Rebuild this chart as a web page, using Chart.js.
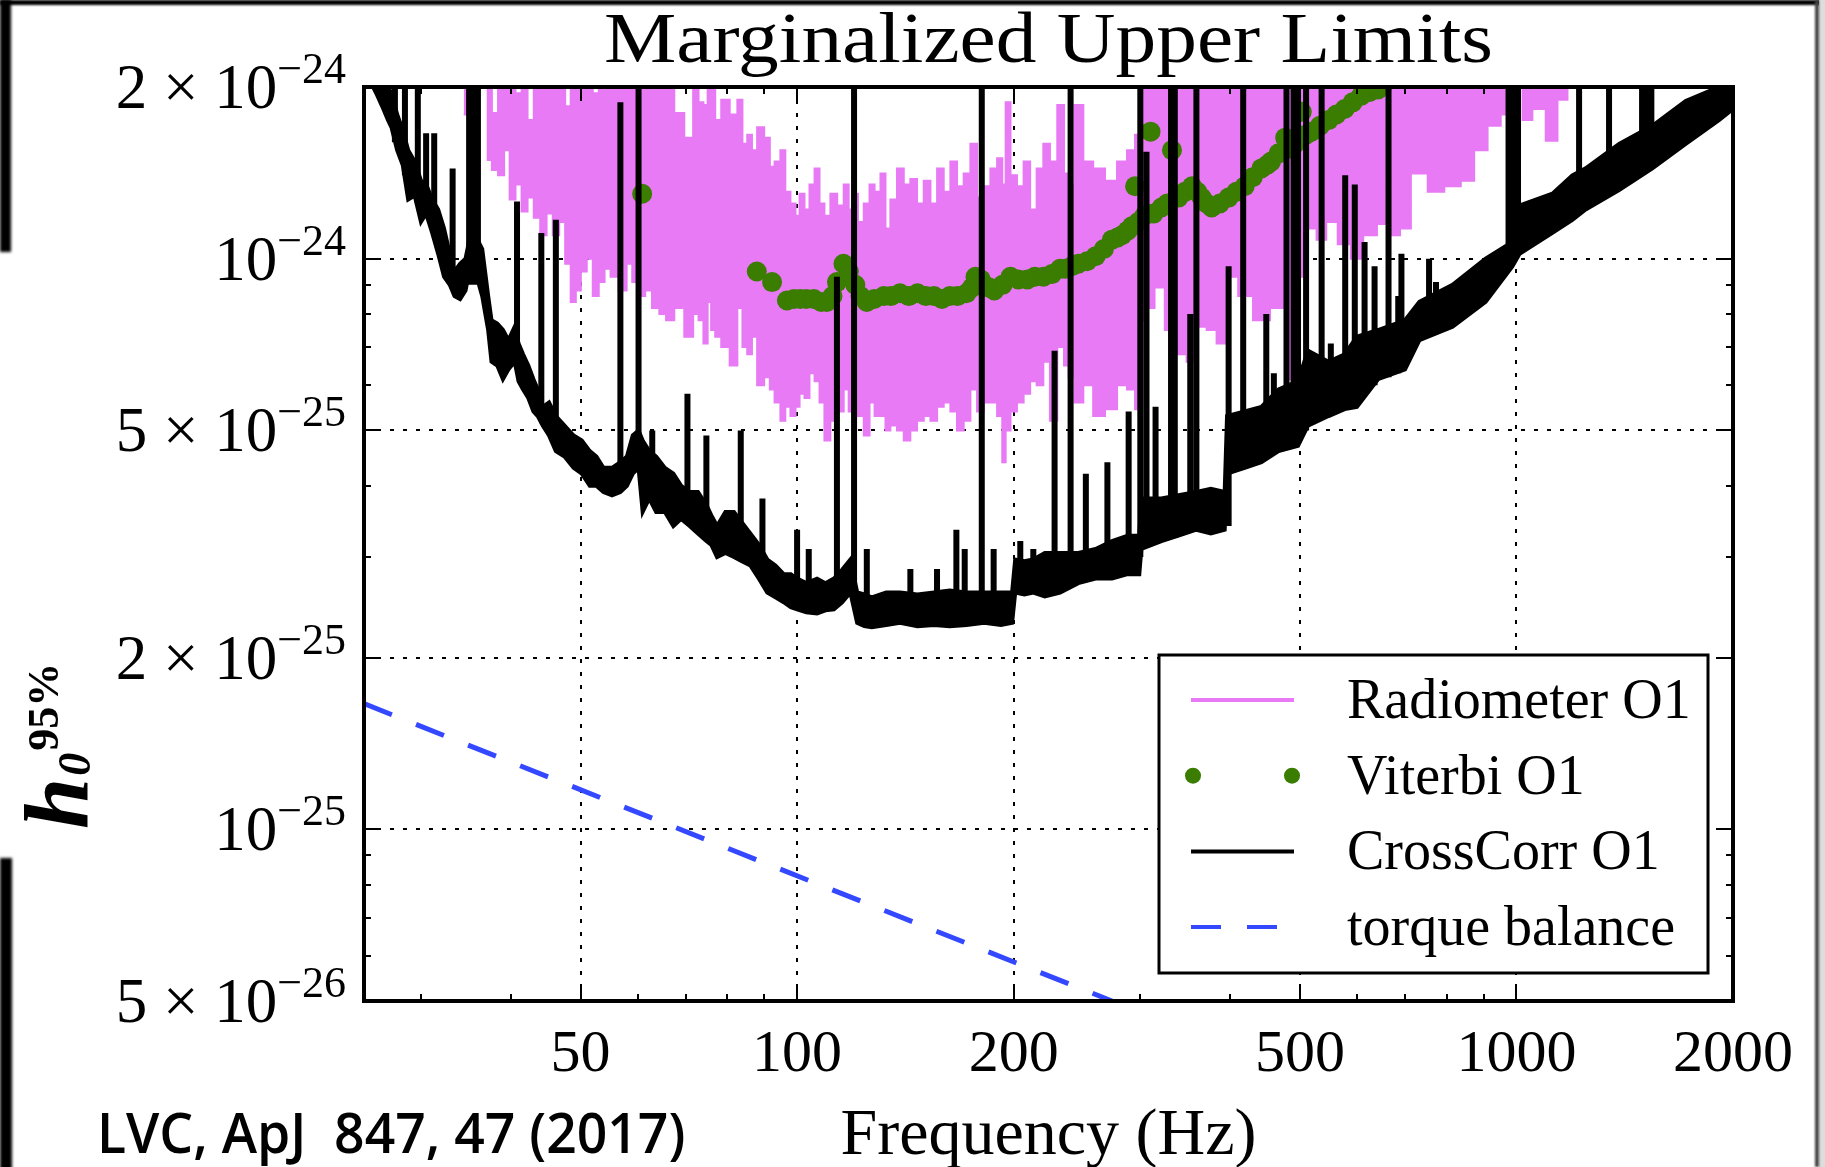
<!DOCTYPE html>
<html lang="en">
<head>
<meta charset="UTF-8">
<title>Marginalized Upper Limits</title>
<script src="https://cdn.jsdelivr.net/npm/chart.js@4"></script>
<style>
  html, body { margin: 0; padding: 0; background: #fff; }
  #page { position: relative; width: 1825px; height: 1167px; overflow: hidden; background: #fff; }
  #chart { position: absolute; left: 0; top: 0; }
  .edge { position: absolute; background: #000; }
  #edgeTop { left: 0; top: 0; width: 1825px; height: 5px; filter: blur(1px); }
  #edgeLeftA { left: 0; top: 0; width: 11px; height: 252px; filter: blur(1.5px); }
  #edgeLeftB { left: 0; top: 858px; width: 12px; height: 320px; filter: blur(1.5px); }
  #edgeRight { left: 1815px; top: 0; width: 4px; height: 1167px; background: #444; filter: blur(1px); }
  #edgeRightOut { left: 1819px; top: 0; width: 6px; height: 1167px; background: #ddd; }
  #citation {
    position: absolute; left: 97px; top: 1093px;
    font: 600 56px "Open Sans"; white-space: pre; color: #000;
    transform-origin: 0 0;
  }
</style>
</head>
<body>
<div id="page">
  <div class="edge" id="edgeTop"></div>
  <div class="edge" id="edgeLeftA"></div>
  <div class="edge" id="edgeLeftB"></div>
  <div class="edge" id="edgeRightOut"></div>
  <div class="edge" id="edgeRight"></div>
  <canvas id="chart" width="1825" height="1167"></canvas>
  <div id="citation">LVC, ApJ  847, 47 (2017)</div>
</div>
<script>
// strain values below are in units of 1e-25
const UNIT = 1e-25;

// Radiometer O1: upper and lower edge of the band
const radioFreq = [34.4, 35.3, 35.5, 37.0, 37.3, 38.0, 38.8, 39.5, 40.2, 41.0, 41.8, 42.6, 43.5, 44.4, 45.3, 46.2, 47.2, 48.0, 48.9, 49.6,
  50.5, 51.5, 52.5, 53.5, 54.5, 55.6, 57.4, 58.5, 59.5, 61.0, 62.0, 63.7, 65.0, 66.5, 68.5, 70.9, 72.5, 73.4, 74.8, 75.4,
  76.5, 77.4, 79.5, 81.7, 83.5, 84.4, 86.1, 87.0, 89.0, 91.0, 92.3, 93.8, 95.8, 96.8, 99.0, 100, 101.6, 103.2, 104.9, 106.6,
  108.3, 110, 112.5, 114.9, 117.3, 118.6, 120.5, 122.5, 125.1, 127.1, 129.2, 132, 133.4, 136.2, 139.2, 142.2, 145.2, 148.4, 151.6, 154.9,
  158.2, 161.6, 165.1, 168.6, 172.3, 176, 179.8, 183.7, 187.6, 191.8, 193.9, 196, 200, 204.3, 208.7, 213, 217.6, 222.3, 227, 233,
  237, 240, 246, 254, 262, 274, 283, 292, 298, 301, 310, 318, 331, 342, 354, 365, 377, 389, 402, 419,
  442, 467, 487, 497, 519, 536, 552, 577, 600, 625, 655, 684, 694, 733, 773, 815, 859, 888, 936, 966,
  987, 1010, 1030, 1075, 1122, 1159, 1196];
const radioHigh = [21, 21, 21, 21, 21, 18.0, 21, 21, 21, 19.5, 21, 17.5, 21, 21, 20.0, 21, 21, 18.5, 21, 21,
  21, 21, 19.5, 21, 21, 21, 21, 21, 21, 21, 21, 20.0, 21, 21, 18.0, 16.3, 21, 18.8, 18.6, 20.0,
  21, 17.5, 19.0, 17.9, 19.0, 15.9, 16.5, 15.5, 17.0, 16.3, 14.5, 14.8, 15.5, 13.1, 12.5, 11.9, 13.0, 12.2, 13.5, 14.4,
  12.5, 11.9, 13.0, 12.4, 13.5, 12.2, 13.0, 11.6, 12.5, 13.5, 13.1, 14.1, 11.3, 12.7, 14.4, 13.5, 13.8, 12.5, 13.7, 12.5,
  14.4, 13.1, 14.8, 13.4, 14.1, 15.9, 12.8, 13.4, 14.4, 15.0, 13.5, 18.8, 14.0, 13.4, 14.8, 12.2, 14.4, 15.9, 14.8, 18.6,
  14.1, 13.5, 18.6, 14.8, 14.4, 13.7, 14.8, 15.5, 16.5, 21, 21, 21, 21, 21, 21, 21, 21, 21, 21, 21,
  21, 21, 21, 21, 21, 21, 21, 21, 21, 21, 21, 21, 21, 21, 21, 21, 21, 21, 21, 21,
  21, 21, 21, 21, 21, 21, 21];
const radioLow = [17.9, 17.9, 21, 21, 14.9, 14.3, 14.0, 15.5, 12.7, 13.5, 12.1, 12.8, 11.8, 11.0, 12.0, 11.0, 11.6, 9.8, 8.4, 8.8,
  9.5, 10.0, 8.6, 9.1, 9.6, 9.3, 8.8, 9.8, 9.1, 8.6, 8.8, 8.2, 8.0, 7.8, 8.2, 7.3, 8.0, 7.8, 7.1, 8.4,
  7.5, 7.3, 7.0, 6.5, 8.2, 7.0, 6.8, 7.3, 6.0, 6.2, 5.9, 5.6, 5.2, 5.5, 5.3, 5.5, 5.8, 5.7, 6.3, 6.1,
  5.6, 4.8, 5.2, 5.4, 5.9, 5.4, 5.9, 5.3, 4.9, 5.6, 5.3, 5.3, 5.0, 5.1, 5.0, 4.8, 5.0, 5.2, 5.3, 5.2,
  5.5, 5.6, 5.4, 5.0, 5.2, 5.9, 5.4, 5.6, 5.6, 5.3, 4.4, 5.0, 5.4, 5.6, 5.8, 6.1, 6.0, 6.6, 5.2, 7.0,
  6.5, 6.2, 5.6, 6.0, 5.3, 5.45, 6.0, 5.9, 5.45, 7.8, 8.2, 8.9, 7.5, 6.8, 6.6, 7.6, 7.5, 7.1, 9.3, 8.6,
  7.8, 8.2, 6.15, 9.3, 11.3, 10.8, 11.6, 10.6, 10.0, 11.0, 11.5, 11.0, 11.3, 14.1, 13.1, 13.4, 13.7, 15.5, 17.1, 17.9,
  21, 21, 17.5, 18.3, 16.1, 19.0, 21];

// Viterbi O1 upper limits
const viterbiFreq = [60.9, 87.9, 92.3, 96.8, 99, 101, 103, 105.5, 108, 110, 112, 113.6, 116, 118, 120.5, 122.5, 125, 128, 132, 135,
  139, 143, 147, 151, 155, 159, 163, 167, 172, 175, 177, 180, 182, 185, 188, 193, 198, 203, 209, 214,
  220, 226, 232, 236, 241, 246, 253, 260, 267, 274, 279, 283, 288, 292, 295, 298, 304, 310, 313, 321,
  327, 332, 339, 346, 354, 360, 365, 371, 377, 387, 398, 408, 419, 430, 442, 450, 456, 467, 477, 485,
  492, 503, 510, 519, 533, 548, 562, 577, 592, 608, 625, 642, 660];
const viterbiH = [13.0, 9.5, 9.1, 8.45, 8.5, 8.5, 8.5, 8.5, 8.4, 8.4, 8.6, 9.1, 9.8, 9.5, 9.0, 8.6, 8.4, 8.5, 8.6, 8.6,
  8.7, 8.6, 8.7, 8.6, 8.6, 8.5, 8.6, 8.6, 8.7, 8.9, 9.3, 9.2, 9.0, 8.9, 8.8, 9.0, 9.3, 9.2, 9.2, 9.3,
  9.3, 9.4, 9.6, 9.6, 9.7, 9.8, 9.9, 10.1, 10.4, 10.8, 10.9, 11.0, 11.2, 11.4, 13.4, 11.6, 11.9, 16.7, 12.0, 12.3,
  12.5, 15.5, 12.8, 13.1, 13.4, 13.1, 12.8, 12.5, 12.3, 12.5, 12.8, 13.1, 13.4, 13.9, 14.4, 14.6, 14.8, 15.3, 16.3, 15.6,
  15.9, 18.1, 16.5, 16.7, 17.1, 17.5, 17.9, 18.3, 18.8, 19.3, 19.6, 19.8, 20.5];

// CrossCorr O1: broadband floor (upper / lower edge) ...
const crossFreq = [25.0, 25.5, 26.0, 26.5, 27.0, 27.3, 27.8, 28.3, 28.8, 29.4, 30.0, 30.5, 31.1, 31.7, 32.3, 32.9, 33.4, 34.0, 34.6, 35.3,
  36.5, 37.2, 37.6, 38.3, 39.0, 39.7, 40.5, 41.0, 41.6, 42.3, 43.0, 43.6, 44.3, 45.2, 46.2, 47.5, 48.9, 50.2, 51.5, 52.6,
  53.8, 55.3, 56.8, 58.0, 59.1, 60.2, 61.0, 62.3, 63.7, 65.5, 67.3, 69.0, 70.9, 72.8, 74.8, 76.0, 77.4, 79.5, 81.7, 83.8,
  86.1, 88.5, 90.9, 93.3, 95.8, 98, 100, 103, 106.6, 109.5, 112.5, 115.5, 118.6, 121.2, 124, 127, 133, 139, 147, 155,
  163, 172, 182, 192, 199, 201, 207, 213, 221, 232, 246, 260, 274, 288, 299, 301, 321, 339, 359, 376,
  393, 396, 419, 442, 467, 497, 513, 548, 577, 600, 642, 700, 733, 815, 906, 987, 1010, 1122, 1196, 1248,
  1389, 1545, 1719, 1912, 2000];
const crossHigh = [27, 23, 21, 20.5, 20.0, 19.5, 17.9, 16.8, 15.5, 14.8, 13.7, 13.5, 12.7, 12.2, 11.3, 10.2, 9.5, 9.8, 10.0, 11.3,
  10.4, 8.6, 7.8, 7.7, 7.5, 7.2, 7.6, 7.1, 6.8, 6.5, 6.15, 5.9, 5.5, 5.6, 5.3, 5.1, 4.9, 4.8, 4.6, 4.5,
  4.3, 4.3, 4.4, 4.5, 4.9, 5.0, 4.8, 4.6, 4.5, 4.3, 4.2, 4.0, 3.9, 3.9, 3.7, 3.55, 3.4, 3.6, 3.6, 3.45,
  3.3, 3.15, 2.97, 2.9, 2.8, 2.8, 2.75, 2.7, 2.75, 2.7, 2.75, 2.85, 2.97, 2.6, 2.58, 2.55, 2.6, 2.6, 2.58, 2.6,
  2.62, 2.6, 2.6, 2.6, 2.6, 2.97, 2.95, 2.97, 3.05, 3.05, 3.05, 3.1, 3.2, 3.27, 3.27, 3.8, 3.8, 3.85, 3.9, 3.95,
  3.9, 5.3, 5.4, 5.5, 5.9, 6.1, 6.9, 6.6, 6.8, 7.3, 7.5, 7.8, 8.4, 9.0, 10.0, 10.7, 12.4, 13.0, 14.0, 14.4,
  15.9, 17.1, 18.9, 20.0, 21.0];
const crossLow = [24, 20.5, 19.5, 18.5, 17.5, 17.0, 15.5, 14.6, 12.7, 12.9, 11.6, 12.0, 11.1, 10.2, 9.3, 9.0, 8.6, 8.5, 8.8, 10.0,
  8.6, 7.5, 6.6, 6.5, 6.15, 6.4, 6.6, 6.1, 5.9, 5.7, 5.4, 5.3, 5.1, 4.9, 4.6, 4.5, 4.3, 4.2, 4.0, 4.0,
  3.9, 3.85, 3.9, 4.0, 4.2, 4.3, 3.6, 3.8, 3.6, 3.6, 3.4, 3.5, 3.4, 3.3, 3.2, 3.15, 3.0, 3.05, 3.0, 2.95,
  2.9, 2.75, 2.6, 2.55, 2.5, 2.45, 2.43, 2.4, 2.39, 2.42, 2.43, 2.5, 2.6, 2.3, 2.27, 2.26, 2.28, 2.3, 2.27, 2.28,
  2.27, 2.28, 2.3, 2.28, 2.3, 2.6, 2.58, 2.6, 2.56, 2.6, 2.7, 2.75, 2.75, 2.8, 2.8, 3.1, 3.2, 3.27, 3.35, 3.3,
  3.35, 4.2, 4.3, 4.4, 4.6, 4.7, 5.1, 5.3, 5.45, 5.5, 6.15, 6.4, 7.2, 7.6, 8.4, 9.7, 10.2, 11.1, 11.7, 12.2,
  13.2, 14.4, 15.9, 17.5, 18.3];

// ... and the narrow instrumental lines sticking out of it
const lineFreq = [27.6, 28.5, 29.7, 30.5, 31.3, 33.2, 35.0, 35.5, 36.0, 40.8, 44.1, 46.2, 56.8, 60.2, 62.9, 70.4, 74.8, 83.5, 89.5, 100,
  103.8, 113.6, 120, 125, 143.7, 156.5, 166.5, 171, 180.6, 187.6, 204.3, 213, 228, 240, 252, 270, 289, 300, 306, 315,
  331, 335, 352, 359, 398, 417, 449, 460, 479, 490, 497, 510, 536, 552, 578, 596, 615, 635, 664, 685,
  692, 756, 773, 975, 985, 995, 1005, 1222, 1345, 1495, 1510, 1525, 1540];
const lineLow = [16, 14, 12.5, 12, 11.5, 9, 9, 9, 9, 6.5, 5.2, 4.8, 4.0, 4.3, 4.0, 3.6, 3.4, 3.2, 2.9, 2.6,
  2.6, 2.6, 2.5, 2.4, 2.4, 2.4, 2.4, 2.4, 2.4, 2.4, 2.7, 2.7, 2.7, 2.7, 2.8, 2.9, 2.9, 3.0, 3.2, 3.2,
  3.3, 3.3, 3.4, 3.4, 3.4, 4.4, 4.5, 4.6, 4.7, 4.8, 4.8, 5.0, 5.3, 5.3, 5.5, 5.6, 5.8, 6.0, 6.2, 6.3,
  6.4, 7.3, 7.4, 9.8, 9.9, 10, 10.2, 12, 13.5, 14.5, 14.6, 14.7, 14.8];
const lineTop = [25, 25, 25, 16.6, 16.6, 14.4, 25, 25, 25, 12.6, 11.1, 11.7, 18.8, 25, 5.0, 5.8, 4.9, 5.0, 3.8, 3.35,
  3.1, 9.3, 25, 3.1, 2.86, 2.86, 3.35, 3.1, 25, 3.1, 3.2, 3.1, 6.9, 25, 4.2, 4.4, 5.4, 25, 15.4, 5.5,
  25, 25, 8.0, 25, 9.7, 25, 8.0, 6.3, 25, 25, 25, 25, 25, 7.1, 14.0, 13.5, 10.7, 9.7, 25, 8.6,
  10.2, 10, 9.1, 25, 25, 25, 25, 25, 25, 25, 25, 25, 25];

// torque balance estimate
const torqueFreq = [25, 274];
const torqueH = [1.66, 0.50];

// axes
const xTickValues = [30, 40, 50, 60, 70, 80, 90, 100, 200, 300, 400, 500, 600, 700, 800, 900, 1000, 2000];
const xLabelValues = [50, 100, 200, 500, 1000, 2000];
const xGridValues = [50, 100, 200, 500, 1000];
const yTickValues = [20, 10, 5, 2, 1, 0.5];
const yTickMantissa = ['2', '', '5', '2', '', '5'];
const yTickExponent = [-24, -24, -25, -25, -25, -26];
const yMinorValues = [0.6, 0.7, 0.8, 0.9, 3, 4, 6, 7, 8, 9];
const yGridValues = [10, 5, 2, 1];

const SERIF = '"Liberation Serif", "Times New Roman", serif';
const VIOLET = '#e87af5';
const GREEN = '#3a7d00';
const BLACK = '#000000';
const BLUE = '#3448ff';

const toPoints = (xs, ys) => xs.map((f, i) => ({ x: f, y: ys[i] * UNIT }));

function linePoints() {
  const out = [];
  lineFreq.forEach((f, i) => {
    out.push({ x: f, y: lineLow[i] * UNIT }, { x: f, y: lineTop[i] * UNIT }, { x: f, y: null });
  });
  return out;
}

// datasets shown in the legend, by index
const legendEntries = [0, 2, 3, 6];

function drawPowerLabel(ctx, right, y, mant, exp) {
  const base = (mant ? mant + ' \u00d7 ' : '') + '10';
  const sup = '\u2212' + Math.abs(exp);
  ctx.font = '63px ' + SERIF;
  const wb = ctx.measureText(base).width;
  ctx.font = '44px ' + SERIF;
  const ws = ctx.measureText(sup).width;
  const x0 = right - wb - ws;
  ctx.textAlign = 'left';
  ctx.textBaseline = 'alphabetic';
  ctx.font = '63px ' + SERIF;
  ctx.fillText(base, x0, y + 21);
  ctx.font = '44px ' + SERIF;
  ctx.fillText(sup, x0 + wb, y - 4);
}

const decor = {
  id: 'decor',
  beforeDatasetsDraw(chart) {
    const { ctx, chartArea: a, scales: { x, y } } = chart;
    ctx.save();
    ctx.strokeStyle = '#000';
    ctx.lineWidth = 2;
    ctx.setLineDash([4, 9]);
    ctx.beginPath();
    xGridValues.forEach(v => {
      const px = Math.round(x.getPixelForValue(v));
      ctx.moveTo(px, a.top); ctx.lineTo(px, a.bottom);
    });
    yGridValues.forEach(v => {
      const py = Math.round(y.getPixelForValue(v * UNIT));
      ctx.moveTo(a.left, py); ctx.lineTo(a.right, py);
    });
    ctx.stroke();
    ctx.restore();
  },
  afterDatasetsDraw(chart) {
    const { ctx, chartArea: a, scales: { x, y } } = chart;
    const ds = chart.data.datasets;
    ctx.save();
    ctx.fillStyle = '#000';
    ctx.strokeStyle = '#000';

    // ticks point inwards on all four sides
    ctx.lineWidth = 2;
    ctx.beginPath();
    xTickValues.forEach(v => {
      const px = Math.round(x.getPixelForValue(v));
      const len = xLabelValues.includes(v) ? 14 : 7;
      ctx.moveTo(px, a.bottom); ctx.lineTo(px, a.bottom - len);
      ctx.moveTo(px, a.top); ctx.lineTo(px, a.top + len);
    });
    yTickValues.concat(yMinorValues).forEach(v => {
      const py = Math.round(y.getPixelForValue(v * UNIT));
      const len = yTickValues.includes(v) ? 14 : 7;
      ctx.moveTo(a.left, py); ctx.lineTo(a.left + len, py);
      ctx.moveTo(a.right, py); ctx.lineTo(a.right - len, py);
    });
    ctx.stroke();

    ctx.lineWidth = 4;
    ctx.strokeRect(a.left, a.top, a.right - a.left, a.bottom - a.top);

    // y tick labels with real exponents
    yTickValues.forEach((v, i) => {
      drawPowerLabel(ctx, a.left - 18, y.getPixelForValue(v * UNIT), yTickMantissa[i], yTickExponent[i]);
    });

    // legend
    const box = { x: a.right - 574, y: a.bottom - 346, w: 549, h: 318 };
    ctx.fillStyle = '#fff';
    ctx.fillRect(box.x, box.y, box.w, box.h);
    ctx.lineWidth = 3;
    ctx.strokeRect(box.x, box.y, box.w, box.h);
    legendEntries.forEach((idx, i) => {
      const d = ds[idx];
      const ry = box.y + 45 + i * 75.7;
      const x1 = box.x + 32, x2 = box.x + 135;
      if (d.showLine === false) {
        ctx.fillStyle = d.pointBackgroundColor;
        [x1 + 2, x2 - 2].forEach(cx => {
          ctx.beginPath(); ctx.arc(cx, ry, 8, 0, Math.PI * 2); ctx.fill();
        });
      } else {
        ctx.strokeStyle = d.borderColor;
        ctx.lineWidth = 4;
        ctx.setLineDash(d.borderDash || []);
        ctx.beginPath(); ctx.moveTo(x1, ry); ctx.lineTo(x2, ry); ctx.stroke();
        ctx.setLineDash([]);
      }
      ctx.fillStyle = '#000';
      ctx.font = '56px ' + SERIF;
      ctx.textAlign = 'left';
      ctx.textBaseline = 'alphabetic';
      ctx.fillText(d.label, box.x + 188, ry + 18);
    });

    // title
    const cx = (a.left + a.right) / 2;
    ctx.font = '72px ' + SERIF;
    ctx.textAlign = 'center';
    const tw = ctx.measureText('Marginalized Upper Limits').width;
    ctx.save();
    ctx.translate(cx, a.top - 25);
    ctx.scale(889 / tw, 1);
    ctx.fillText('Marginalized Upper Limits', 0, 0);
    ctx.restore();

    // x axis title
    ctx.font = '66px ' + SERIF;
    ctx.fillText('Frequency (Hz)', cx, a.bottom + 153);

    // y axis title, h_0^95%
    ctx.save();
    ctx.translate(87, 829);
    ctx.rotate(-Math.PI / 2);
    ctx.textAlign = 'left';
    ctx.font = 'italic bold 92px ' + SERIF;
    ctx.fillText('h', 0, 0);
    const wh = ctx.measureText('h').width;
    ctx.font = 'italic bold 46px ' + SERIF;
    ctx.fillText('0', wh + 2, 3);
    const w0 = ctx.measureText('0').width;
    ctx.font = 'bold 44px ' + SERIF;
    ctx.fillText('95%', wh + w0 + 4, -29);
    ctx.restore();

    ctx.restore();
  }
};

const chart = new Chart(document.getElementById('chart'), {
  type: 'line',
  data: {
    datasets: [
      { label: 'Radiometer O1', data: toPoints(radioFreq, radioHigh), fill: '+1', stepped: 'middle',
        borderColor: VIOLET, backgroundColor: VIOLET, borderWidth: 2, pointRadius: 0, order: 4 },
      { label: 'Radiometer O1 lower', data: toPoints(radioFreq, radioLow), fill: false, stepped: 'middle',
        borderColor: VIOLET, borderWidth: 2, pointRadius: 0, order: 4 },
      { label: 'Viterbi O1', data: toPoints(viterbiFreq, viterbiH), showLine: false,
        pointRadius: 10, pointBackgroundColor: GREEN, pointBorderWidth: 0, order: 3 },
      { label: 'CrossCorr O1', data: toPoints(crossFreq, crossHigh), fill: '+1',
        borderColor: BLACK, backgroundColor: BLACK, borderWidth: 4, pointRadius: 0, order: 2 },
      { label: 'CrossCorr O1 lower', data: toPoints(crossFreq, crossLow), fill: false,
        borderColor: BLACK, borderWidth: 4, pointRadius: 0, order: 2 },
      { label: 'CrossCorr O1 lines', data: linePoints(), fill: false,
        borderColor: BLACK, borderWidth: 6, pointRadius: 0, order: 1 },
      { label: 'torque balance', data: toPoints(torqueFreq, torqueH), fill: false,
        borderColor: BLUE, borderWidth: 5, borderDash: [30, 26], pointRadius: 0, order: 0 }
    ]
  },
  options: {
    responsive: false,
    devicePixelRatio: 1,
    animation: false,
    events: [],
    layout: { padding: { left: 0, top: 87, right: 92, bottom: 0 } },
    plugins: { legend: { display: false }, tooltip: { enabled: false } },
    scales: {
      x: {
        type: 'logarithmic', min: 25, max: 2000,
        grid: { display: false }, border: { display: false },
        afterBuildTicks: s => { s.ticks = xTickValues.map(v => ({ value: v })); },
        afterFit: s => { s.height = 166; },
        ticks: {
          autoSkip: false, maxRotation: 0, minRotation: 0, padding: 10, color: '#000',
          font: { family: SERIF, size: 60 },
          callback: v => xLabelValues.includes(v) ? String(v) : ''
        }
      },
      y: {
        type: 'logarithmic', min: 0.5 * UNIT, max: 20 * UNIT,
        grid: { display: false }, border: { display: false },
        ticks: { display: false },
        afterFit: s => { s.width = 364; }
      }
    }
  },
  plugins: [decor]
});

// squeeze the citation to its printed width
const cite = document.getElementById('citation');
cite.style.transform = 'scaleX(' + (588 / cite.offsetWidth) + ')';
</script>
</body>
</html>
